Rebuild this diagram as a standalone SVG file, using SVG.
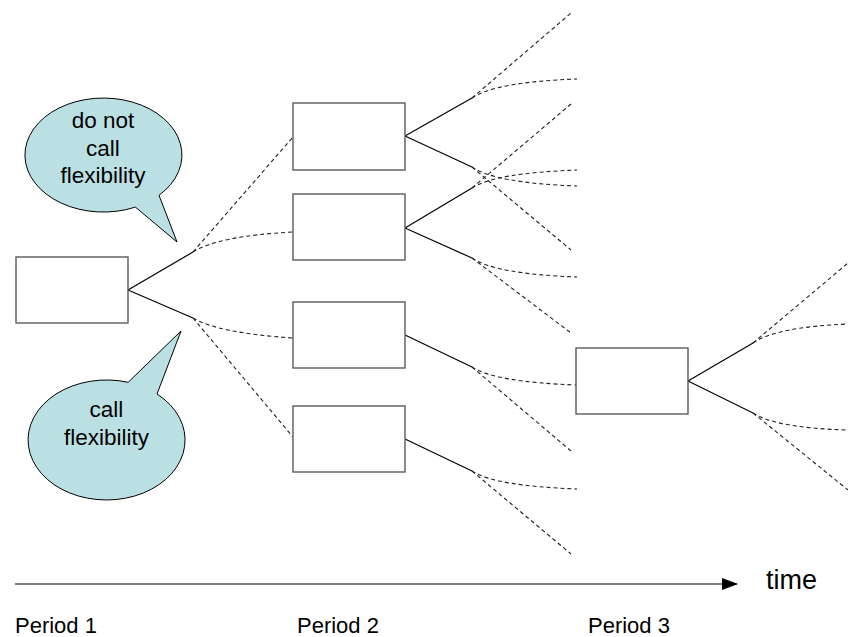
<svg xmlns="http://www.w3.org/2000/svg" width="848" height="637" viewBox="0 0 848 637">
<style>
.box{fill:#fff;stroke:#5a5a5a;stroke-width:1.4}
.solid{fill:none;stroke:#000;stroke-width:1.2}
.dash{fill:none;stroke:#222;stroke-width:1.1;stroke-dasharray:4 3}
.callout{fill:#BBE0E3;stroke:#000;stroke-width:1}
text{font-family:"Liberation Sans",Arial,sans-serif;fill:#000}
.ct{font-size:22.5px;text-anchor:middle}
.pt{font-size:22px}
</style>
<defs>
<marker id="ah" viewBox="0 0 16 12" refX="15" refY="6" markerWidth="16" markerHeight="12" markerUnits="userSpaceOnUse" orient="auto">
<path d="M0,0 L16,6 L0,12 Z" fill="#000"/>
</marker>
</defs>
<rect width="848" height="637" fill="#fff"/>

<g id="connectors">
<path class="solid" d="M128,290 L193,252"/>
<path class="solid" d="M128,290 L193,318"/>
<path class="dash" d="M193,252 L293,137"/>
<path class="dash" d="M193,252 Q218,236 293,232"/>
<path class="dash" d="M193,318 Q218,333 293,338"/>
<path class="dash" d="M193,318 L293,437"/>
<path class="solid" d="M405,136 L472,98"/>
<path class="solid" d="M405,136 L472,167"/>
<path class="dash" d="M472,98 L571,13"/>
<path class="dash" d="M472,98 Q495,82 577,79"/>
<path class="dash" d="M472,167 L571,250"/>
<path class="dash" d="M472,167 Q495,183 577,186"/>
<path class="solid" d="M405,228 L472,188"/>
<path class="solid" d="M405,228 L472,258"/>
<path class="dash" d="M472,188 L571,104"/>
<path class="dash" d="M472,188 Q495,173 577,170"/>
<path class="dash" d="M472,258 Q495,274 577,277"/>
<path class="dash" d="M472,258 L571,333"/>
<path class="solid" d="M405,335 L472,367"/>
<path class="dash" d="M472,367 Q495,382 576,385"/>
<path class="dash" d="M472,367 L571,451"/>
<path class="solid" d="M405,439 L472,471"/>
<path class="dash" d="M472,471 Q495,486 577,489"/>
<path class="dash" d="M472,471 L571,554"/>
<path class="solid" d="M688,381 L753,343"/>
<path class="solid" d="M688,381 L753,413"/>
<path class="dash" d="M753,343 L848,263"/>
<path class="dash" d="M753,343 Q776,327 848,324"/>
<path class="dash" d="M753,413 Q776,428 848,430"/>
<path class="dash" d="M753,413 L848,490"/>
<path d="M15,584 L737,584" stroke="#000" stroke-width="1.2" marker-end="url(#ah)"/>
</g>

<g id="node-p1"><rect class="box" x="16" y="257" width="112" height="66"/></g>
<g id="node-a"><rect class="box" x="293" y="103" width="112" height="67"/></g>
<g id="node-b"><rect class="box" x="293" y="194" width="112" height="66"/></g>
<g id="node-c"><rect class="box" x="293" y="302" width="112" height="66"/></g>
<g id="node-d"><rect class="box" x="293" y="406" width="112" height="66"/></g>
<g id="node-e"><rect class="box" x="576" y="348" width="112" height="66"/></g>

<g id="callout-top">
<path class="callout" d="M159,195.3 L177,242 L135.4,207.1 A78.5 57 0 1 1 159,195.3 Z"/>
<text class="ct" x="103" y="128">do not</text>
<text class="ct" x="103" y="155.5">call</text>
<text class="ct" x="103" y="183">flexibility</text>
</g>
<g id="callout-bottom">
<path class="callout" d="M128.2,382.3 L181,331 L157,394 A78.5 60 0 1 1 128.2,382.3 Z"/>
<text class="ct" x="106.5" y="417">call</text>
<text class="ct" x="106.5" y="445">flexibility</text>
</g>

<g id="labels">
<text x="766" y="589" font-size="27">time</text>
<text class="pt" x="15" y="633">Period 1</text>
<text class="pt" x="297" y="633">Period 2</text>
<text class="pt" x="588" y="633">Period 3</text>
</g>
</svg>
